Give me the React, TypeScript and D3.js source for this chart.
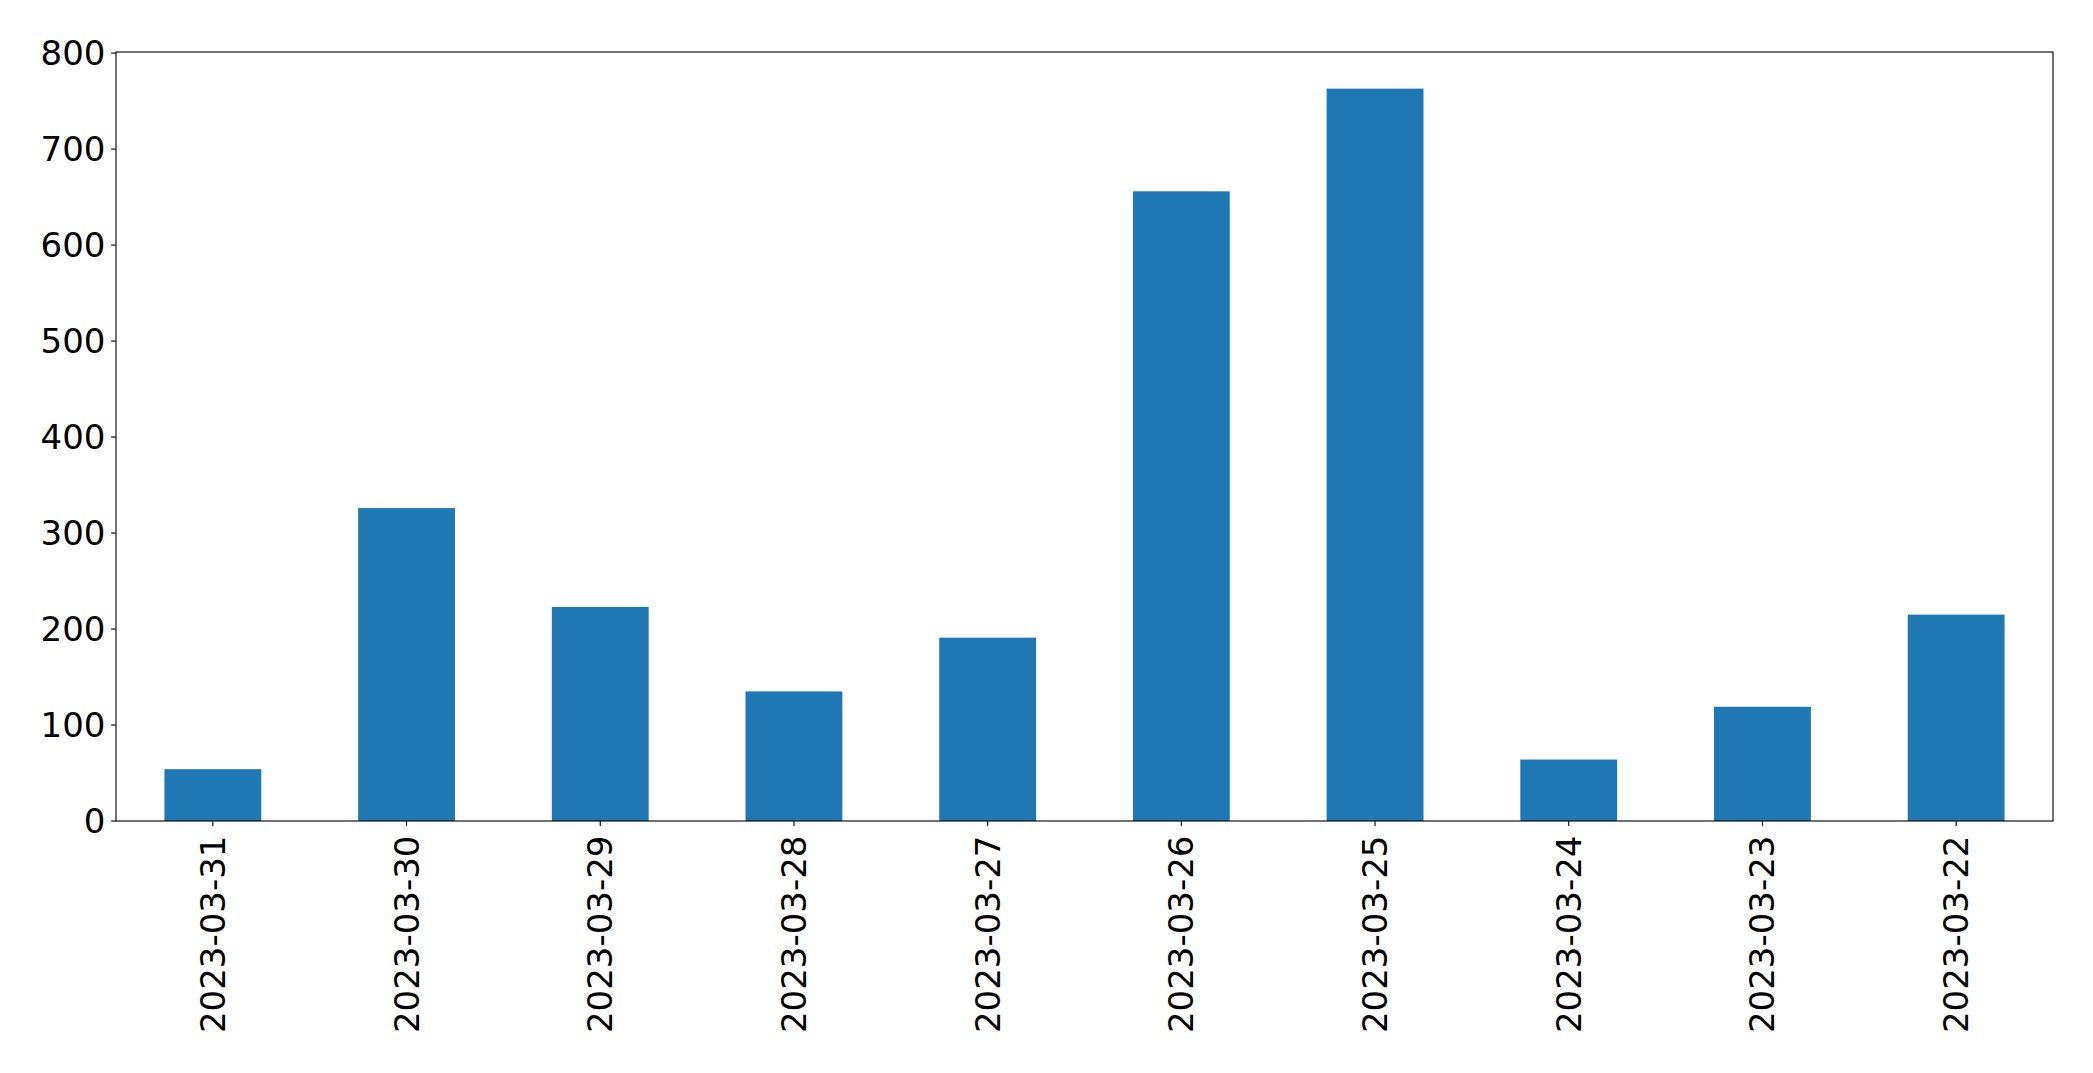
import React from "react";
import * as d3 from "d3";

const categories = [
  "2023-03-31", "2023-03-30", "2023-03-29", "2023-03-28", "2023-03-27",
  "2023-03-26", "2023-03-25", "2023-03-24", "2023-03-23", "2023-03-22",
];
const values = [54, 326, 223, 135, 191, 656, 763, 64, 119, 215];
const yTicks = [0, 100, 200, 300, 400, 500, 600, 700, 800];

const W = 2093;
const H = 1073;
const left = 116;
const right = 2053;
const top = 52;
const bottom = 821;
const FONT = "'DejaVu Sans', sans-serif";
const FS = 34;
const TICK = 4.9;
const YPAD = 5.6;
const XPAD = 9.6;

export default function App() {
  const n = categories.length;
  const x = d3.scaleLinear().domain([-0.5, n - 0.5]).range([left, right]);
  const yMax = d3.max(values)! * 1.05;
  const y = d3.scaleLinear().domain([0, yMax]).range([bottom, top]);
  const barW = x(0.25) - x(-0.25);

  return (
    <svg
      width={W}
      height={H}
      style={{ position: "absolute", left: 0, top: 0, display: "block", background: "#fff" }}
    >
      <rect x={0} y={0} width={W} height={H} fill="#fff" />
      {values.map((v, i) => (
        <rect
          key={categories[i]}
          x={x(i) - barW / 2}
          y={y(v)}
          width={barW}
          height={y(0) - y(v)}
          fill="#1f77b4"
        />
      ))}
      <rect
        x={left}
        y={top}
        width={right - left}
        height={bottom - top}
        fill="none"
        stroke="#000"
        strokeWidth={1.1}
      />
      {yTicks.map((t) => (
        <g key={t}>
          <line x1={left - TICK} x2={left} y1={y(t)} y2={y(t)} stroke="#000" strokeWidth={1.1} />
          <text
            x={left - TICK - YPAD}
            y={y(t)}
            textAnchor="end"
            dominantBaseline="central"
            fontFamily={FONT}
            fontSize={FS}
            fill="#000"
          >
            {t}
          </text>
        </g>
      ))}
      {categories.map((c, i) => (
        <g key={c}>
          <line x1={x(i)} x2={x(i)} y1={bottom} y2={bottom + TICK} stroke="#000" strokeWidth={1.1} />
          <text
            transform={`translate(${x(i)},${bottom + TICK + XPAD}) rotate(-90)`}
            textAnchor="end"
            dominantBaseline="central"
            fontFamily={FONT}
            fontSize={FS}
            fill="#000"
          >
            {c}
          </text>
        </g>
      ))}
    </svg>
  );
}
